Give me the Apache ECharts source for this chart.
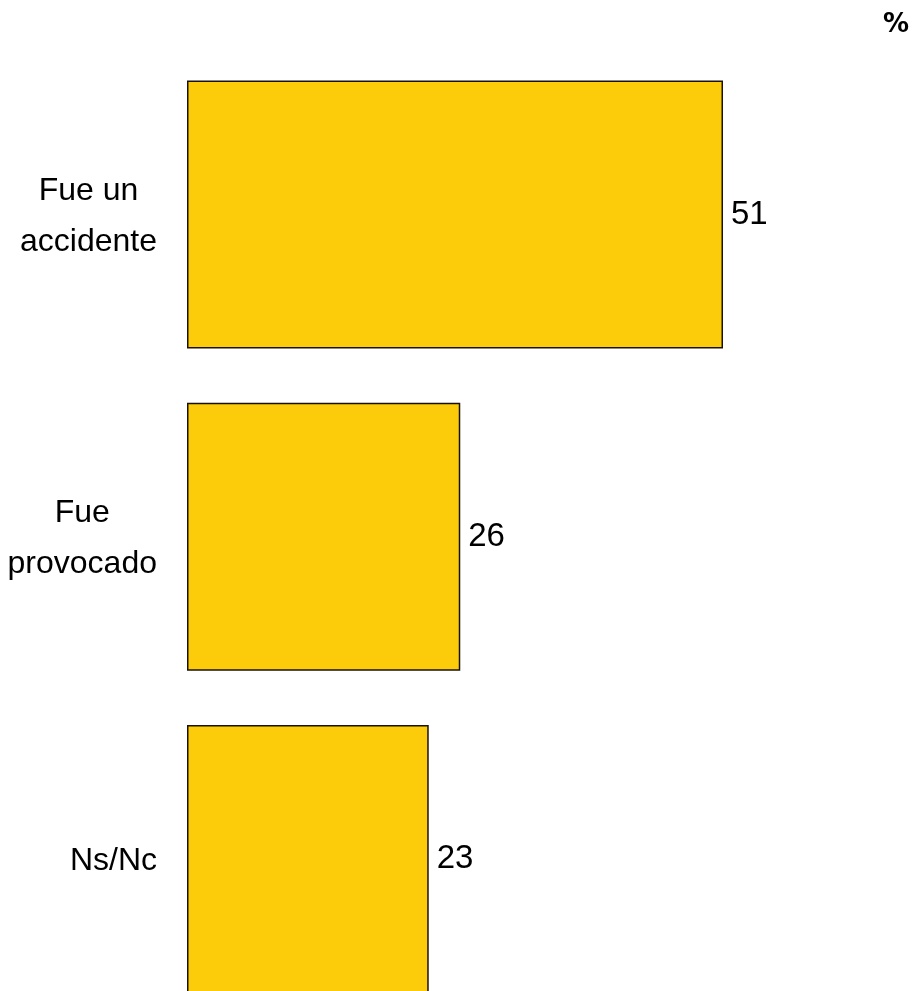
<!DOCTYPE html>
<html>
<head>
<meta charset="utf-8">
<script src="https://cdn.jsdelivr.net/npm/echarts@6/dist/echarts.min.js"></script>
<style>html,body{margin:0;padding:0;background:#fff;overflow:hidden}#c{width:917px;height:1020px}</style>
</head>
<body>
<div id="c"></div>
<script>
const categories = ['Fue un\naccidente', 'Fue\nprovocado', 'Ns/Nc'];
const values = [51, 26, 23];
const unitLabel = '%';

const chart = echarts.init(document.getElementById('c'));
const FONT = '"Liberation Sans", Arial, sans-serif';
chart.setOption({
  animation: false,
  backgroundColor: '#fff',
  title: {
    text: unitLabel,
    right: 3,
    top: 7,
    textStyle: { fontFamily: '"DejaVu Sans", sans-serif', fontWeight: 'bold', fontSize: 26, color: '#000' }
  },
  grid: { left: 187, top: 53.5, width: 630.6, bottom: 0, containLabel: false, outerBoundsMode: 'none' },
  xAxis: {
    type: 'value', min: 0, max: 60, show: false
  },
  yAxis: {
    type: 'category',
    data: categories,
    inverse: true,
    axisLine: { show: false },
    axisTick: { show: false },
    splitLine: { show: false },
    axisLabel: {
      margin: 30,
      padding: [4, 0, 0, 0],
      formatter: v => v.split('\n').map(l => '{c|' + l + '}').join('\n'),
      rich: { c: { align: 'center', fontSize: 32, lineHeight: 51, fontFamily: FONT, color: '#000' } }
    }
  },
  series: [{
    type: 'bar',
    data: values,
    barCategoryGap: '16.8%',
    itemStyle: { color: '#FCCB0A', borderColor: '#1a1208', borderWidth: 1.5 },
    label: {
      show: true, position: 'right', distance: 8,
      fontSize: 33, fontFamily: FONT, color: '#000'
    }
  }]
});
</script>
</body>
</html>
